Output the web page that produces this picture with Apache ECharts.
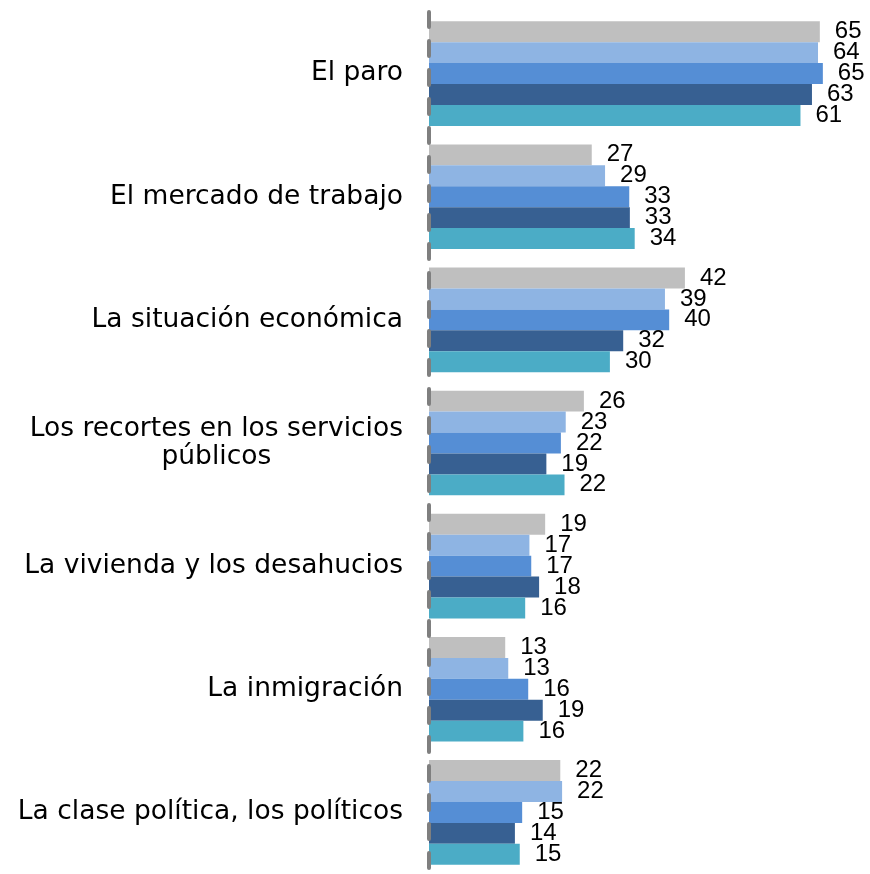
<!DOCTYPE html>
<html>
<head>
<meta charset="utf-8">
<script src="https://cdn.jsdelivr.net/npm/echarts@6/dist/echarts.min.js"></script>
<style>html,body{margin:0;padding:0;background:#fff}#c{width:870px;height:874px}</style>
</head>
<body>
<div id="c"></div>
<script>
const categories = [
  'El paro',
  'El mercado de trabajo',
  'La situación económica',
  'Los recortes en los servicios\npúblicos',
  'La vivienda y los desahucios',
  'La inmigración',
  'La clase política, los políticos'
];
const s1 = [64.6, 26.9, 42.3, 25.6, 19.2, 12.6, 21.7];
const s2 = [64.3, 29.1, 39.0, 22.6, 16.6, 13.1, 22.0];
const s3 = [65.1, 33.1, 39.7, 21.8, 16.9, 16.4, 15.4];
const s4 = [63.3, 33.2, 32.1, 19.4, 18.2, 18.8, 14.2];
const s5 = [61.4, 34.0, 29.9, 22.4, 15.9, 15.6, 15.0];
const labels1 = [65, 27, 42, 26, 19, 13, 22];
const labels2 = [64, 29, 39, 23, 17, 13, 22];
const labels3 = [65, 33, 40, 22, 17, 16, 15];
const labels4 = [63, 33, 32, 19, 18, 19, 14];
const labels5 = [61, 34, 30, 22, 16, 16, 15];
const colors = ['#BFBFBF', '#8EB4E3', '#558ED5', '#376092', '#4BACC6'];
const CAT_FONT = 'DejaVu Sans';
const NUM_FONT = 'Liberation Sans';

const seriesData = [s1, s2, s3, s4, s5];
const seriesLabels = [labels1, labels2, labels3, labels4, labels5];

const chart = echarts.init(document.getElementById('c'), null, {renderer: 'canvas'});
chart.setOption({
  animation: false,
  backgroundColor: '#fff',
  grid: {left: 429, top: 12, width: 423.5, height: 871.5, containLabel: false},
  xAxis: {type: 'value', min: 0, max: 70, show: false},
  yAxis: {
    type: 'category',
    inverse: true,
    z: 5,
    data: categories,
    axisLine: {show: true, lineStyle: {color: '#7f7f7f', width: 4, type: [15, 14]}},
    axisTick: {show: false},
    axisLabel: {
      margin: 26,
      color: '#000',
      fontFamily: CAT_FONT,
      fontSize: 26.5,
      lineHeight: 28,
      formatter: function (v) {
        const parts = v.split('\n');
        if (parts.length === 1) return v;
        return parts[0] + '\n{c|' + parts[1] + '}';
      },
      rich: {c: {align: 'center', fontFamily: CAT_FONT, fontSize: 26.5, color: '#000', lineHeight: 28}}
    }
  },
  series: seriesData.map((d, i) => ({
    type: 'bar',
    data: d,
    barGap: '0%',
    barCategoryGap: '15%',
    itemStyle: {color: colors[i]},
    label: {
      show: true,
      position: 'right',
      distance: 15,
      color: '#000',
      fontFamily: NUM_FONT,
      fontSize: 24,
      formatter: p => String(seriesLabels[i][p.dataIndex])
    }
  }))
});
</script>
</body>
</html>
